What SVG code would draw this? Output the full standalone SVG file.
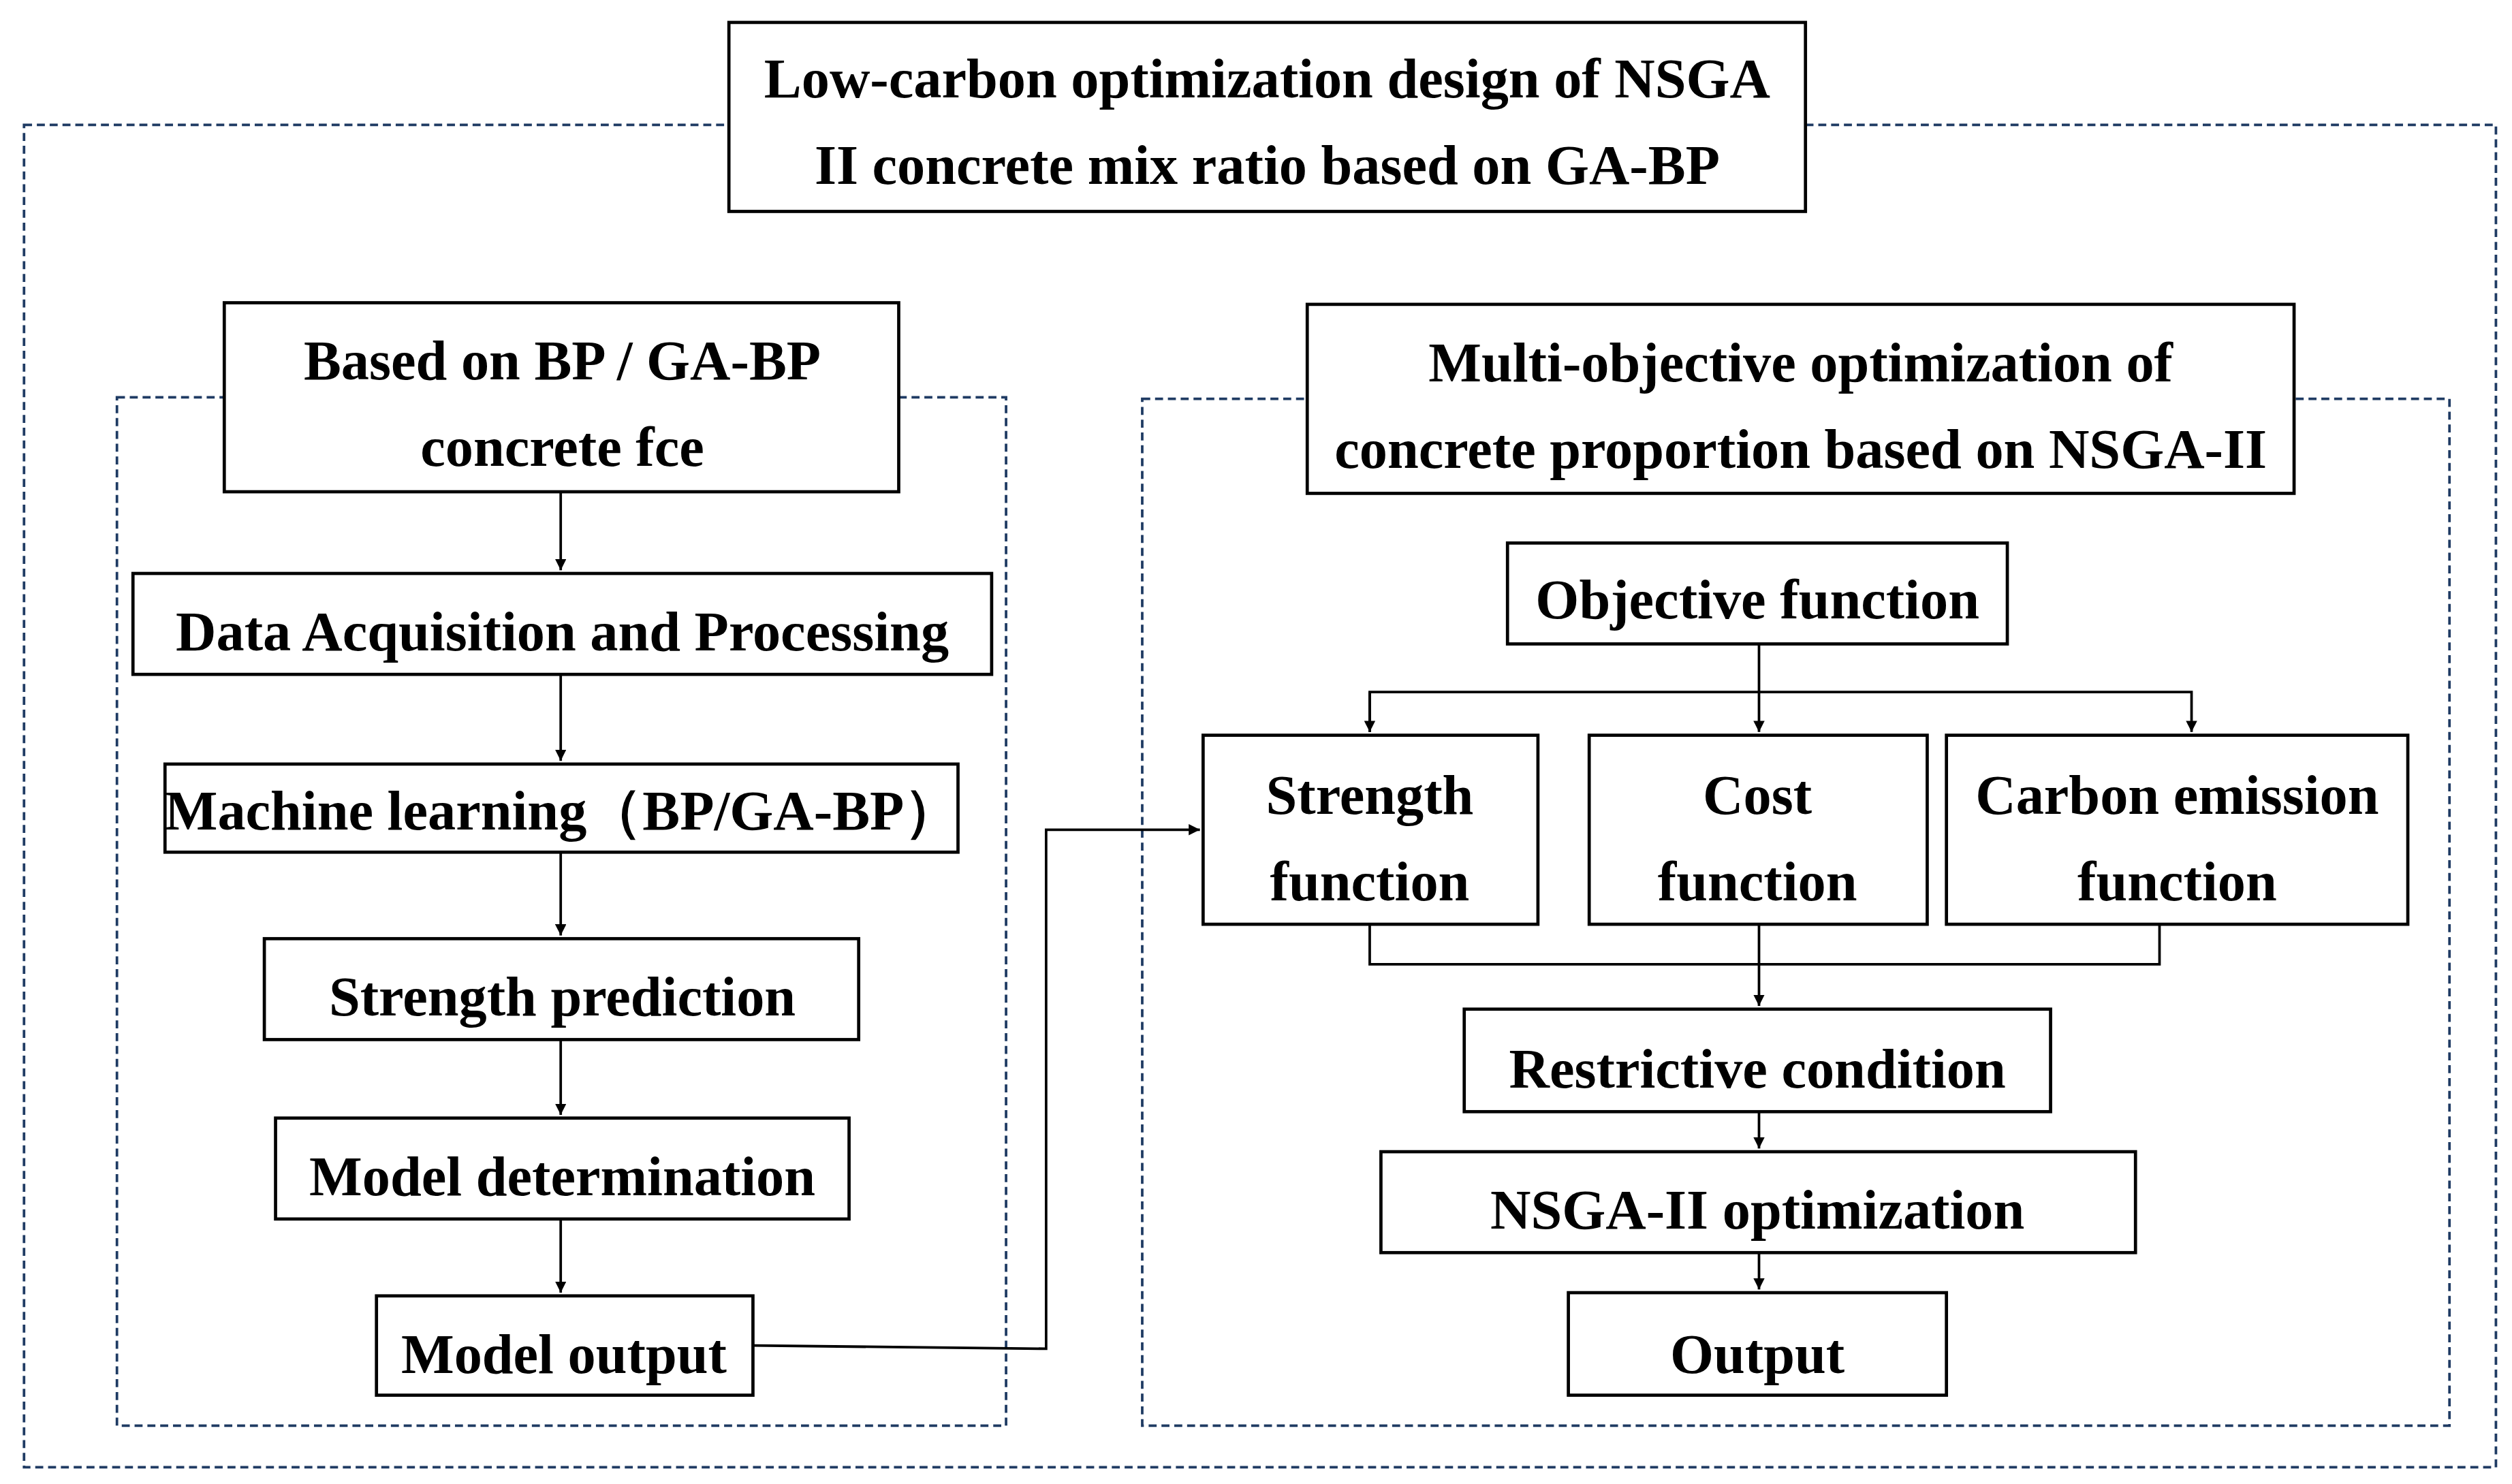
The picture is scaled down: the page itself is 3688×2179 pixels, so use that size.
<svg xmlns="http://www.w3.org/2000/svg" width="3688" height="2179" viewBox="0 0 3688 2179">
<style>
.b{fill:#fff;stroke:#000;stroke-width:2}
.d{fill:none;stroke:#1f3b63;stroke-width:1.6;stroke-dasharray:5 3}
.t{font-family:"Liberation Serif",serif;font-weight:bold;font-size:35px;text-anchor:middle;fill:#000}
.c{fill:none;stroke:#000;stroke-width:1.6}
</style>
<defs><marker id="a" viewBox="0 0 10 10" refX="10" refY="5" markerWidth="7" markerHeight="7" markerUnits="userSpaceOnUse" orient="auto"><path d="M0,0L10,5L0,10z" fill="#000"/></marker></defs>
<rect width="3688" height="2179" fill="#fff"/>
<g transform="scale(2.352)">
<g id="frames">
<rect class="d" x="15" y="78" width="1543" height="838"/>
<rect class="d" x="73" y="248" width="555" height="642"/>
<rect class="d" x="713" y="249" width="816" height="641"/>
</g>
<g id="connectors">
<path class="c" d="M350,307V356" marker-end="url(#a)"/>
<path class="c" d="M350,421V475" marker-end="url(#a)"/>
<path class="c" d="M350,532V584" marker-end="url(#a)"/>
<path class="c" d="M350,649V696" marker-end="url(#a)"/>
<path class="c" d="M350,761V807" marker-end="url(#a)"/>
<path class="c" d="M470,840L653,842V518H749" marker-end="url(#a)"/>
<path class="c" d="M1098,402V457"  marker-end="url(#a)"/>
<path class="c" d="M855,457V432H1368V457" marker-end="url(#a)"/>
<path class="c" d="M855,432V457" marker-end="url(#a)"/>
<path class="c" d="M855,577V602H1348V577"/>
<path class="c" d="M1098,577V628" marker-end="url(#a)"/>
<path class="c" d="M1098,694V717" marker-end="url(#a)"/>
<path class="c" d="M1098,782V805" marker-end="url(#a)"/>
</g>
<g id="title"><rect class="b" x="455" y="14" width="672" height="118"/><text class="t" x="791" y="61">Low-carbon optimization design of NSGA</text><text class="t" x="791" y="115">II concrete mix ratio based on GA-BP</text></g>
<g id="left-title"><rect class="b" x="140" y="189" width="421" height="118"/><text class="t" x="351" y="237">Based on BP / GA-BP</text><text class="t" x="351" y="291">concrete fce</text></g>
<g id="data"><rect class="b" x="83" y="358" width="536" height="63"/><text class="t" x="351" y="406">Data Acquisition and Processing</text></g>
<g id="ml"><rect class="b" x="103" y="477" width="495" height="55"/><text class="t" x="351" y="518">Machine learning（BP/GA-BP）</text></g>
<g id="sp"><rect class="b" x="165" y="586" width="371" height="63"/><text class="t" x="351" y="634">Strength prediction</text></g>
<g id="md"><rect class="b" x="172" y="698" width="358" height="63"/><text class="t" x="351" y="746">Model determination</text></g>
<g id="mo"><rect class="b" x="235" y="809" width="235" height="62"/><text class="t" x="352" y="857">Model output</text></g>
<g id="right-title"><rect class="b" x="816" y="190" width="616" height="118"/><text class="t" x="1124" y="238">Multi-objective optimization of</text><text class="t" x="1124" y="292">concrete proportion based on NSGA-II</text></g>
<g id="obj"><rect class="b" x="941" y="339" width="312" height="63"/><text class="t" x="1097" y="386">Objective function</text></g>
<g id="sf"><rect class="b" x="751" y="459" width="209" height="118"/><text class="t" x="855" y="508">Strength</text><text class="t" x="855" y="562">function</text></g>
<g id="cf"><rect class="b" x="992" y="459" width="211" height="118"/><text class="t" x="1097" y="508">Cost</text><text class="t" x="1097" y="562">function</text></g>
<g id="ce"><rect class="b" x="1215" y="459" width="288" height="118"/><text class="t" x="1359" y="508">Carbon emission</text><text class="t" x="1359" y="562">function</text></g>
<g id="rc"><rect class="b" x="914" y="630" width="366" height="64"/><text class="t" x="1097" y="679">Restrictive condition</text></g>
<g id="ns"><rect class="b" x="862" y="719" width="471" height="63"/><text class="t" x="1097" y="767">NSGA-II optimization</text></g>
<g id="out"><rect class="b" x="979" y="807" width="236" height="64"/><text class="t" x="1097" y="857">Output</text></g>
</g>
</svg>
